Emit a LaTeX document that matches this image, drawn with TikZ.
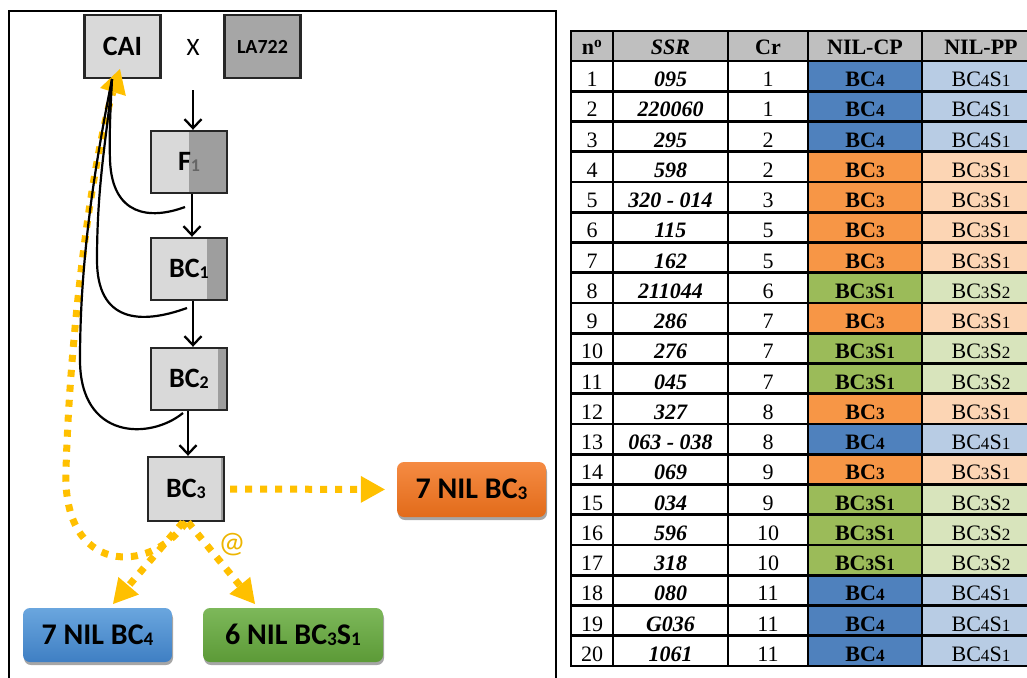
\documentclass[tikz,border=0pt]{standalone}
\usepackage{fontspec}
\setmainfont{Liberation Serif}
\newfontfamily\calib{Carlito}
\usetikzlibrary{arrows.meta,shadows,calc}

% scheme colours
\definecolor{boxlight}{HTML}{D9D9D9}
\definecolor{boxdark}{HTML}{9E9E9E}
\definecolor{laydark}{HTML}{A6A6A6}
\definecolor{gold}{HTML}{FFC000}
\definecolor{atgold}{HTML}{EDB500}
\definecolor{orgtop}{HTML}{F58B43}
\definecolor{orgbot}{HTML}{E26B1A}
\definecolor{blutop}{HTML}{6AA6DE}
\definecolor{blubot}{HTML}{3F7FC3}
\definecolor{grntop}{HTML}{7DB85A}
\definecolor{grnbot}{HTML}{5C9A37}
% table colours
\definecolor{cpb}{HTML}{4F81BD}
\definecolor{cpo}{HTML}{F79646}
\definecolor{cpg}{HTML}{9BBB59}
\definecolor{ppb}{HTML}{B8CCE4}
\definecolor{ppo}{HTML}{FCD5B4}
\definecolor{ppg}{HTML}{D8E4BC}
\definecolor{headgray}{HTML}{BFBFBF}

% small lowered digits (Calibri style) and small digits (table)
\newcommand\dn[1]{\raisebox{-0.04em}{\scalebox{0.64}{#1}}}
\newcommand\sm[1]{\scalebox{0.78}{#1}}
\newcommand\cellcpb{\textbf{BC\sm{4}}}
\newcommand\cellcpo{\textbf{BC\sm{3}}}
\newcommand\cellcpg{\textbf{BC\sm{3}S\sm{1}}}
\newcommand\cellppb{BC\sm{4}S\sm{1}}
\newcommand\cellppo{BC\sm{3}S\sm{1}}
\newcommand\cellppg{BC\sm{3}S\sm{2}}

\begin{document}
\begin{tikzpicture}[x=1pt,y=-1pt,
  gbox/.style={draw=black!85, line width=2.4pt, fill=boxlight, minimum width=76pt,
    minimum height=63pt, inner sep=0pt, font=\calib\bfseries\fontsize{28}{30}\selectfont},
  tone/.style={path picture={\fill[boxdark] ([xshift=-#1]path picture bounding box.north east)
    rectangle (path picture bounding box.south east);}},
  nilbox/.style={rounded corners=7pt, minimum height=55pt, inner sep=0pt,
    font=\calib\bfseries\fontsize{30}{32}\selectfont,
    drop shadow={shadow xshift=1pt, shadow yshift=-3pt, opacity=0.35, fill=black}},
  blk/.style={line width=2.3pt, -{Straight Barb[length=9pt,width=17pt]}},
  ret/.style={line width=2.2pt},
  ydot/.style={gold, line width=7pt, dash pattern=on 7pt off 8pt},
  ytip/.style={-{Triangle[length=24pt,width=27pt,line width=0pt]}},
  grid/.style={line width=2.6pt, line cap=rect},
  hd/.style={anchor=base, font=\bfseries\fontsize{22}{24}\selectfont},
  td/.style={anchor=base, font=\fontsize{22}{24}\selectfont},
  tdb/.style={anchor=base, font=\bfseries\itshape\fontsize{22}{24}\selectfont}]

\useasboundingbox (0,0) rectangle (1027,677);
\clip (0,0) rectangle (1027,677);
\fill[white] (0,0) rectangle (1027,677);

% ---------------- breeding scheme ----------------
\draw[line width=2.5pt] (9,11) rectangle (556,700);

\node[gbox] (cai) at (122.5,46.5) {CAI};
\node[gbox, fill=laydark, font=\calib\bfseries\fontsize{20}{22}\selectfont] (la) at (262.5,46.5) {LA722};
\node[font=\calib\fontsize{25}{27}\selectfont] (cross) at (193,47) {X};

\node[gbox, tone=38pt, minimum height=62pt] (f1) at (189,162) {F\textcolor{black!60}{\dn{1}}};
\node[gbox, tone=20pt, minimum height=62pt] (bc1) at (189,269) {BC\dn{1}};
\node[gbox, tone=9pt, minimum height=62pt] (bc2) at (189,379) {BC\dn{2}};
\node[gbox, tone=3pt, minimum height=64pt] (bc3) at (186,489) {BC\dn{3}};

\node[nilbox, top color=orgtop, bottom color=orgbot, minimum width=149pt] (nil3) at (471.5,489.5) {7 NIL BC\dn{3}};
\node[nilbox, top color=blutop, bottom color=blubot, minimum width=149pt, minimum height=54pt] (nil4) at (97.5,635) {7 NIL BC\dn{4}};
\node[nilbox, top color=grntop, bottom color=grnbot, minimum width=180pt, minimum height=54pt] (nil3s1) at (293,635) {6 NIL BC\dn{3}S\dn{1}};

% descent arrows
\coordinate (crossout) at (193,90);
\draw[blk] (crossout) -- (crossout |- f1.north);
\draw[blk] ([xshift=3pt]f1.south) -- ([xshift=3pt]bc1.north);
\draw[blk] ([xshift=4pt]bc1.south) -- ([xshift=4pt]bc2.north);
\draw[blk] ([xshift=-1pt]bc2.south) -- ([xshift=-1pt]bc2.south |- bc3.north);

% selected line back to the recurrent parent
\coordinate (caitip) at (120,69);
\draw[ydot, ytip] (bc3.south) .. controls (150,575) and (62,575) .. (66,470)
  .. controls (70,330) and (92,160) .. (caitip);

% backcrosses to the recurrent parent
\coordinate (caiin) at (112,79);
\coordinate (r1) at (185,207);
\coordinate (r2) at (187,308);
\coordinate (r3) at (183,413);
\draw[ret] (r1) .. controls (150,220) and (112,216) .. (110,160)
  .. controls (109,130) and (111,100) .. (caiin);
\draw[ret] (r2) .. controls (140,325) and (97,322) .. (97,260)
  .. controls (97,180) and (108,130) .. (caiin);
\draw[ret] (r3) .. controls (150,440) and (80,440) .. (80,360)
  .. controls (80,250) and (98,150) .. (caiin);

% outputs of BC3
\coordinate (t4) at (113,604);
\coordinate (t5) at (255,604);
\draw[ydot, ytip, shorten <=5pt, shorten >=12pt] (bc3.east) -- (nil3.west);
\draw[ydot, ytip] ([xshift=-3pt]bc3.south) -- (t4);
\draw[ydot, ytip] ([xshift=2pt]bc3.south) -- (t5);
\node[font=\calib\fontsize{30}{32}\selectfont, text=atgold] (atlbl) at (232,545) {@};

% ---------------- marker table ----------------
\fill[headgray] (571,31) rectangle (1040,61);
\foreach \i/\s/\c/\t in {1/095/1/b, 2/220060/1/b, 3/295/2/b, 4/598/2/o, 5/320 - 014/3/o,
    6/115/5/o, 7/162/5/o, 8/211044/6/g, 9/286/7/o, 10/276/7/g, 11/045/7/g, 12/327/8/o,
    13/063 - 038/8/b, 14/069/9/o, 15/034/9/g, 16/596/10/g, 17/318/10/g, 18/080/11/b,
    19/G036/11/b, 20/1061/11/b} {
  \pgfmathsetmacro\rt{61+(\i-1)*30.25}
  \fill[cp\t] (808,\rt) rectangle (922,\rt+30.25);
  \fill[pp\t] (922,\rt) rectangle (1040,\rt+30.25);
  \node[td] (n-\i) at (592,\rt+25.5) {\i};
  \node[tdb] (ssr-\i) at (670.5,\rt+25.5) {\s};
  \node[td] (cr-\i) at (768,\rt+25.5) {\c};
  \node[td] (cp-\i) at (865,\rt+25.5) {\csname cellcp\t\endcsname};
  \node[td] (pp-\i) at (981,\rt+25.5) {\csname cellpp\t\endcsname};
}
\foreach \k in {0,...,21} {
  \pgfmathsetmacro\yy{ifthenelse(\k==0,31,61+(\k-1)*30.25)}
  \draw[grid] (571,\yy) -- (1040,\yy);
}
\foreach \xx in {571,613,728,808,922}
  \draw[grid] (\xx,31) -- (\xx,666);

\node[hd] (h-n) at (592,55) {n\textsuperscript{o}};
\node[hd] (h-ssr) at (670.5,55) {\textit{SSR}};
\node[hd] (h-cr) at (768,55) {Cr};
\node[hd] (h-cp) at (865,55) {NIL-CP};
\node[hd] (h-pp) at (981,55) {NIL-PP};
\end{tikzpicture}
\end{document}
